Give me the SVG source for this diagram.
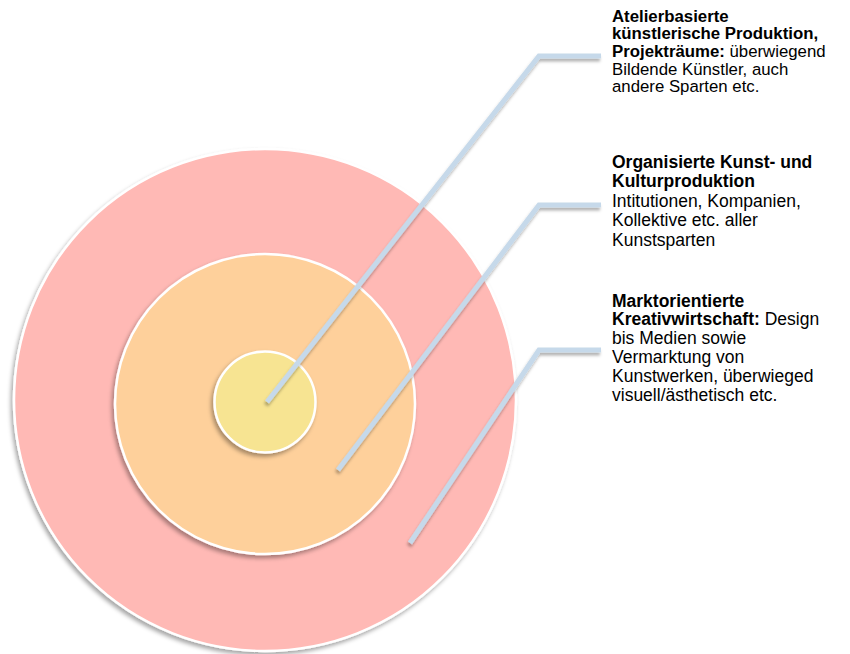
<svg xmlns="http://www.w3.org/2000/svg" width="850" height="654" viewBox="0 0 850 654">
<defs>
<filter id="sh" x="-10%" y="-10%" width="120%" height="120%">
<feDropShadow dx="-2" dy="3" stdDeviation="2" flood-color="#000" flood-opacity="0.35"/>
</filter>
<filter id="lsh" x="-10%" y="-10%" width="120%" height="120%">
<feDropShadow dx="-1" dy="3" stdDeviation="1.5" flood-color="#000" flood-opacity="0.3"/>
</filter>
<style>
.ring{stroke:#ffffff;stroke-width:2.5;filter:url(#sh)}
.conn{fill:none;stroke:#c6d9ea;stroke-width:5;stroke-linejoin:miter;filter:url(#lsh)}
text{font-family:"Liberation Sans",Arial,Helvetica,sans-serif;font-size:17.5px;fill:#000}
.t1{font-size:16.8px}
.b{font-weight:bold}
</style>
</defs>
<g id="outer"><circle class="ring" cx="265" cy="400" r="251" fill="#ffb9b5"/></g>
<g id="middle"><circle class="ring" cx="265" cy="404" r="150" fill="#fed09b"/></g>
<g id="inner"><circle class="ring" cx="265" cy="402" r="50.5" fill="#f7e492"/></g>
<g id="connectors">
<polyline class="conn" points="267,402 539,56 601,56"/>
<polyline class="conn" points="338,470 539,205 601,205"/>
<polyline class="conn" points="410,543 539,350 601,350"/>
</g>
<g id="label1">
<text class="t1" x="612" y="21.5"><tspan class="b">Atelierbasierte</tspan></text>
<text class="t1" x="612" y="39"><tspan class="b">künstlerische Produktion,</tspan></text>
<text class="t1" x="612" y="57"><tspan class="b">Projekträume:</tspan> überwiegend</text>
<text class="t1" x="612" y="74.5">Bildende Künstler, auch</text>
<text class="t1" x="612" y="92">andere Sparten etc.</text>
</g>
<g id="label2">
<text x="612" y="167.5" class="b">Organisierte Kunst- und</text>
<text x="612" y="186.5" class="b">Kulturproduktion</text>
<text x="612" y="206.5">Intitutionen, Kompanien,</text>
<text x="612" y="226">Kollektive etc. aller</text>
<text x="612" y="245.5">Kunstsparten</text>
</g>
<g id="label3">
<text x="612" y="306.5" class="b">Marktorientierte</text>
<text x="612" y="325"><tspan class="b">Kreativwirtschaft:</tspan> Design</text>
<text x="612" y="344">bis Medien sowie</text>
<text x="612" y="363">Vermarktung von</text>
<text x="612" y="382">Kunstwerken, überwieged</text>
<text x="612" y="401">visuell/ästhetisch etc.</text>
</g>
</svg>
